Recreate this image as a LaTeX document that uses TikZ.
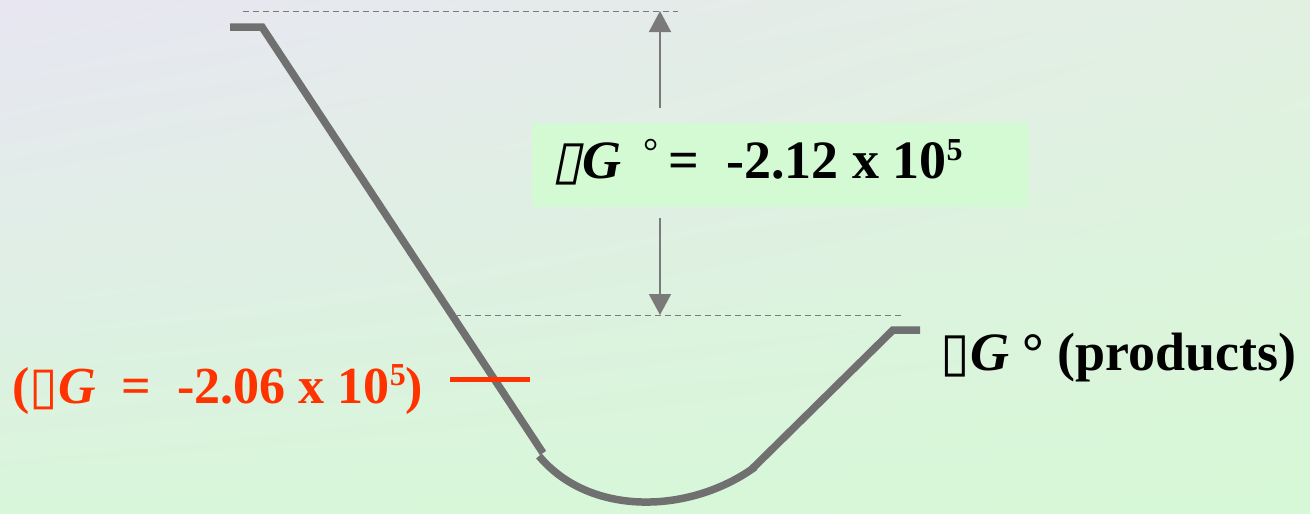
\documentclass[tikz,border=0pt]{standalone}
\usepackage{fontspec}
\setmainfont{Liberation Serif}
\newfontfamily\tofu{DejaVu Sans}
\newfontfamily\tofusl[FakeSlant=0.2]{DejaVu Sans}
\usetikzlibrary{arrows.meta,positioning,shadings}

\definecolor{curvegray}{HTML}{707070}
\definecolor{dashgray}{HTML}{7A7A7A}
\definecolor{boxgreen}{HTML}{D4FAD4}
\definecolor{redtext}{HTML}{FF3300}
\definecolor{bgUL}{RGB}{232,230,242}
\definecolor{bgUR}{RGB}{226,240,226}
\definecolor{bgLL}{RGB}{216,246,218}
\definecolor{bgLR}{RGB}{214,248,214}

\newcommand{\supfive}{\raisebox{18pt}{\fontsize{32}{32}\selectfont 5}}

\begin{document}
\begin{tikzpicture}[
			x=1pt, y=-1pt,
			thick,
			curve/.style={draw=curvegray, line width=7.5pt},
			level/.style={draw=dashgray, line width=1pt, dash pattern=on 6pt off 4pt},
			gap/.style={draw=dashgray, line width=1.8pt, -{Triangle[length=21pt,width=22pt]}},
			big/.style={font=\fontsize{54}{60}\selectfont\bfseries, inner sep=0pt}
		]
		% background
		\shade[upper left=bgUL, upper right=bgUR, lower left=bgLL, lower right=bgLR]
			(0,0) rectangle (1310,514);
		\useasboundingbox (0,0) rectangle (1310,514);

		% free energy curve
		\coordinate (R0) at (230,27);
		\coordinate (R1) at (262,27);
		\coordinate (B0) at (543,453);
		\coordinate (B1) at (539,456);
		\coordinate (B2) at (755,467);
		\coordinate (B3) at (752,469);
		\coordinate (P1) at (893,330);
		\coordinate (P0) at (920,330);
		\draw[curve] (R0) -- (R1) -- (B0);
		\draw[curve] (B1) .. controls (590,517) and (690,514) .. (B2);
		\draw[curve] (B3) -- (P1) -- (P0);

		% levels
		\coordinate (top0) at (243,11);
		\coordinate (top1) at (678,11);
		\coordinate (low0) at (455,315);
		\coordinate (low1) at (903,315);
		\draw[level] (top0) -- (top1);
		\draw[level] (low0) -- (low1);

		% label box
		\node[fill=boxgreen, minimum width=496pt, minimum height=84pt, inner sep=0pt] (box) at (780,165) {};
		\node[big, anchor=base west] (dG) at (552,178)
			{{\tofusl\char"25AF}\textit{G}\hspace{22pt}\raisebox{14pt}{\mdseries\fontsize{38}{38}\selectfont °}\hspace{10pt}=\ \ -2.12 x 10\supfive};

		\coordinate (up0) at (660,108);
		\coordinate (up1) at (660,11);
		\coordinate (dn0) at (660,218);
		\coordinate (dn1) at (660,315);
		\draw[gap] (up0) -- (up1);
		\draw[gap] (dn0) -- (dn1);

		% products
		\node[big, anchor=base west] (prod) at (940,370)
			{{\mdseries\tofu\char"25AF}\textit{G} ° (products)};

		% transition
		\node[big, anchor=base west, text=redtext, font=\fontsize{52}{60}\selectfont\bfseries] (ts) at (12,403)
			{({\mdseries\tofu\char"25AF}\textit{G}\ \ =\ \ -2.06 x 10\supfive)};
		\coordinate (ts0) at (450,379);
		\coordinate (ts1) at (530,379);
		\draw[draw=redtext, line width=5pt] (ts0) -- (ts1);
	\end{tikzpicture}
\end{document}
